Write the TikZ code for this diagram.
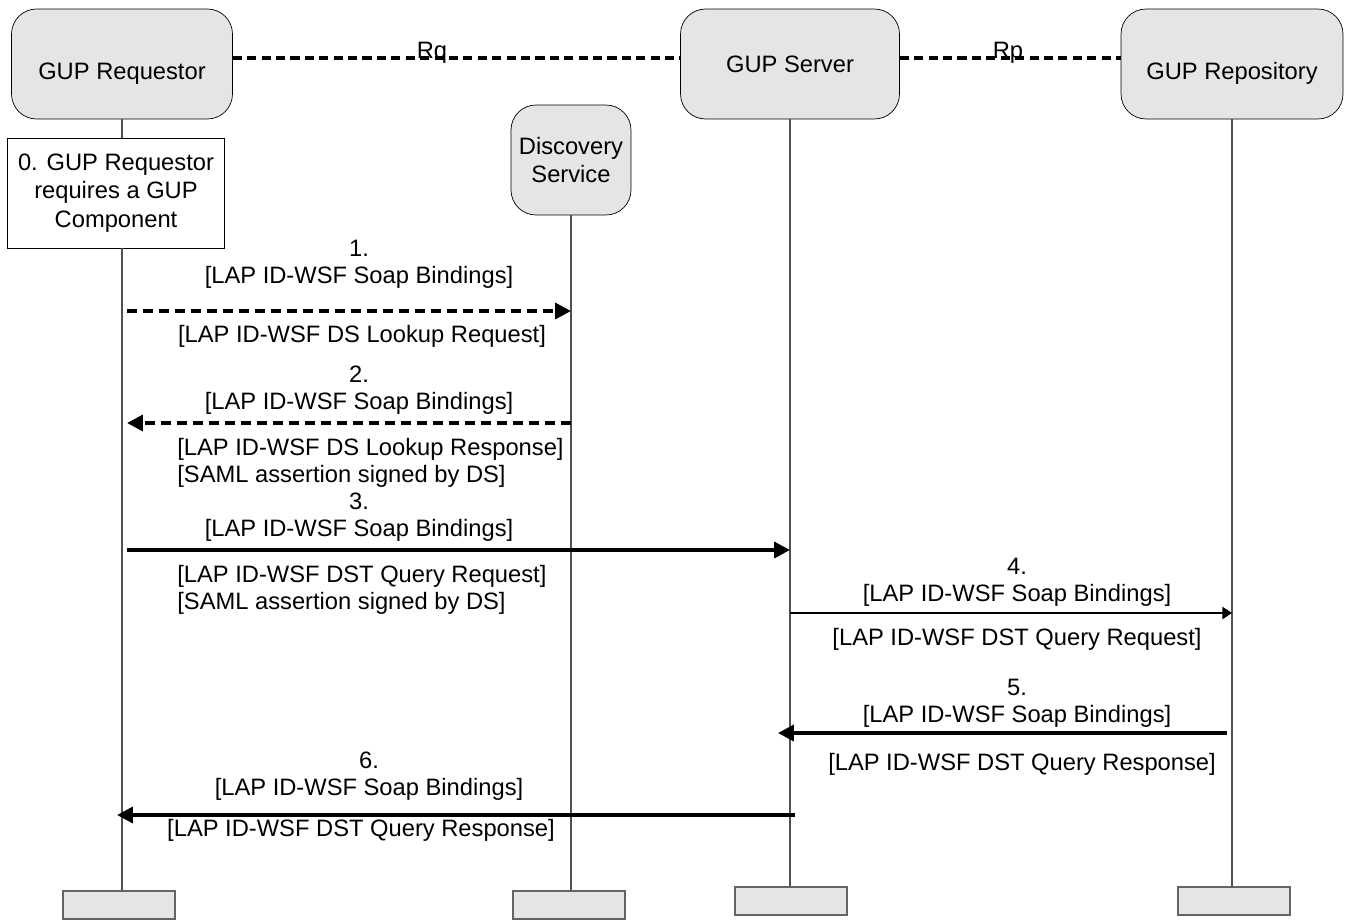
\documentclass[tikz,border=0pt]{standalone}
\usepackage{fontspec}
\setmainfont{Liberation Sans}
\usetikzlibrary{arrows.meta}
\begin{document}
\begin{tikzpicture}[x=0.02cm,y=-0.02cm,font=\fontsize{13.5}{15.5}\selectfont,
  entity/.style={thin,draw=black,fill=boxfill,rounded corners=0.5cm,align=center,inner sep=0pt,minimum height=2.2cm},
  lowtext/.style={text height=18pt,text depth=0pt},
  endbox/.style={draw=edgecolor,fill=boxfill,line width=0.8pt,minimum width=2.24cm,minimum height=0.56cm,inner sep=0pt},
  life/.style={line width=0.6pt,draw=lifecolor},
  iface/.style={line width=1.9pt,dash pattern=on 5.2pt off 3pt},
  dashmsg/.style={line width=2.1pt,dash pattern=on 5.7pt off 3.4pt,-{Triangle[length=9pt,width=9pt]}},
  boldmsg/.style={line width=2.1pt,-{Triangle[length=9pt,width=9pt]}},
  thinmsg/.style={line width=0.8pt,-{Triangle[length=5.5pt,width=7pt]}},
  lbl/.style={align=center,inner sep=0pt}]
\definecolor{boxfill}{RGB}{229,229,229}
\definecolor{lifecolor}{RGB}{80,80,80}
\definecolor{edgecolor}{RGB}{100,100,100}
\useasboundingbox (0,0) rectangle (1348,920);
\node [entity,lowtext,minimum width=4.42cm] (req) at (122,64) {GUP Requestor};
\node [entity,minimum width=4.38cm] (srv) at (790,64) {GUP Server};
\node [entity,lowtext,minimum width=4.44cm] (repo) at (1232,64) {GUP Repository};
\node [entity,minimum width=2.4cm] (disc) at (571,160) {Discovery\\Service};
\node [thin,draw=black,fill=white,align=center,inner sep=0pt,minimum width=4.34cm,minimum height=2.2cm,font=\fontsize{13.5}{16.2}\selectfont] (step0) at (116,193) {0. GUP Requestor\\requires a GUP\\Component};
\node [endbox] (reqend) at (119,905) {};
\node [endbox] (discend) at (569,905) {};
\node [endbox] (srvend) at (791,901) {};
\node [endbox] (repoend) at (1234,901) {};
\draw [iface] (req.east |- 0,58) -- (srv.west |- 0,58);
\draw [iface] (srv.east |- 0,58) -- (repo.west |- 0,58);
\node [anchor=base,inner sep=0pt] (rq) at (432,58) {Rq};
\node [anchor=base,inner sep=0pt] (rp) at (1008,58) {Rp};
\draw [life] (req.south) -- (req.south |- step0.north);
\draw [life] (req.south |- step0.south) -- (req.south |- reqend.north);
\draw [life] (disc.south) -- (disc.south |- discend.north);
\draw [life] (srv.south) -- (srv.south |- srvend.north);
\draw [life] (repo.south) -- (repo.south |- repoend.north);
\draw [dashmsg,shorten <=0.1cm] (req.south |- 0,311) -- (disc.south |- 0,311);
\node [lbl] (m1a) at (359,264) {1.\\{[LAP ID-WSF Soap Bindings]}};
\node [lbl] (m1b) at (362,336) {{[LAP ID-WSF DS Lookup Request]}};
\draw [dashmsg,shorten >=0.1cm] (disc.south |- 0,423) -- (req.south |- 0,423);
\node [lbl] (m2a) at (359,390) {2.\\{[LAP ID-WSF Soap Bindings]}};
\node [lbl,align=left,anchor=west] (m2b) at (177,463) {{[LAP ID-WSF DS Lookup Response]}\\{[SAML assertion signed by DS]}};
\draw [boldmsg,shorten <=0.1cm] (req.south |- 0,550) -- (srv.south |- 0,550);
\node [lbl] (m3a) at (359,517) {3.\\{[LAP ID-WSF Soap Bindings]}};
\node [lbl,align=left,anchor=west] (m3b) at (177,590) {{[LAP ID-WSF DST Query Request]}\\{[SAML assertion signed by DS]}};
\draw [thinmsg] (srv.south |- 0,613) -- (repo.south |- 0,613);
\node [lbl] (m4a) at (1017,582) {4.\\{[LAP ID-WSF Soap Bindings]}};
\node [lbl] (m4b) at (1017,639) {{[LAP ID-WSF DST Query Request]}};
\draw [boldmsg,shorten <=0.1cm,shorten >=-0.24cm] (repo.south |- 0,733) -- (srv.south |- 0,733);
\node [lbl] (m5a) at (1017,703) {5.\\{[LAP ID-WSF Soap Bindings]}};
\node [lbl] (m5b) at (1022,764) {{[LAP ID-WSF DST Query Response]}};
\draw [boldmsg,shorten <=-0.1cm,shorten >=-0.1cm] (srv.south |- 0,815) -- (req.south |- 0,815);
\node [lbl] (m6a) at (369,776) {6.\\{[LAP ID-WSF Soap Bindings]}};
\node [lbl] (m6b) at (361,830) {{[LAP ID-WSF DST Query Response]}};
\end{tikzpicture}
\end{document}
